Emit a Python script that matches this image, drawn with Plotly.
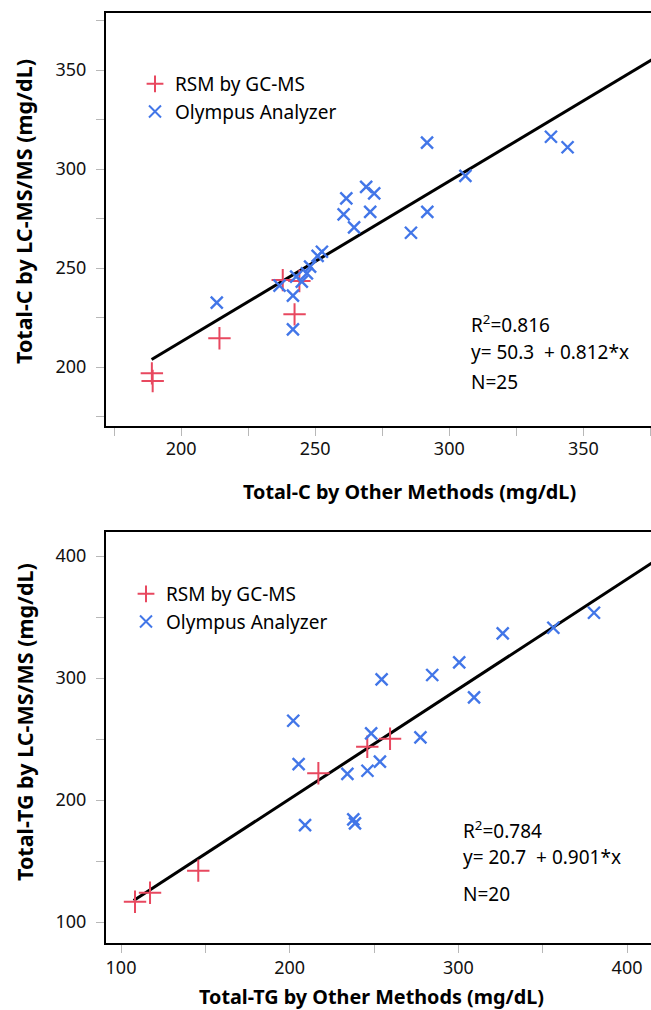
import plotly.graph_objects as go

# ---------------- data ----------------
# Top panel: Total-C
c_rsm_x = [189.1, 189.4, 214.3, 237.9, 244.1, 242.3]
c_rsm_y = [196.8, 192.9, 214.5, 243.9, 243.4, 226.6]
c_oly_x = [213.3, 236.7, 241.7, 241.7, 242.9, 245.0, 246.9, 248.1, 250.9, 252.5,
           260.6, 261.6, 264.5, 269.0, 272.0, 270.5, 285.7, 291.8, 291.7, 306.0,
           337.9, 344.1]
c_oly_y = [232.5, 241.1, 236.0, 219.0, 245.6, 243.1, 247.3, 250.7, 256.1, 258.2,
           277.1, 285.2, 270.5, 291.0, 287.7, 278.4, 267.8, 278.4, 313.3, 296.5,
           316.3, 311.0]
c_fit = dict(a=50.3, b=0.812, x0=189.0, x1=380.0)
c_text = ["R<sup>2</sup>=0.816", "y= 50.3  + 0.812*x", "N=25"]

# Bottom panel: Total-TG
t_rsm_x = [108.3, 117.2, 145.8, 217.0, 246.0, 259.5]
t_rsm_y = [116.6, 124.0, 142.1, 221.9, 243.7, 250.2]
t_oly_x = [202.1, 205.3, 209.1, 234.2, 237.7, 238.7, 246.1, 248.3, 253.5, 254.5,
           277.5, 284.5, 300.5, 309.3, 326.3, 356.3, 380.4]
t_oly_y = [265.0, 229.5, 179.5, 221.5, 184.2, 180.9, 224.0, 254.6, 231.4, 298.9,
           251.4, 302.5, 312.9, 284.2, 336.6, 341.2, 353.5]
t_fit = dict(a=20.7, b=0.901, x0=107.5, x1=420.0)
t_text = ["R<sup>2</sup>=0.784", "y= 20.7  + 0.901*x", "N=20"]

c_ticks = [175, 200, 225, 250, 275, 300, 325, 350, 375]
c_ytks = [175, 200, 225, 250, 275, 300, 325, 350, 375]
t_ticks = [100, 150, 200, 250, 300, 350, 400]

RED = "rgb(232,72,95)"
BLUE = "rgb(66,118,232)"
FONT = "Noto Sans"
W, H = 651, 1010

def lab(vals, step):
    return [str(v) if v % step == 0 else "" for v in vals]

fig = go.Figure()

def add_panel(rx, ry, ox, oy, fit, xa, ya, legend):
    fig.add_trace(go.Scatter(x=[fit["x0"], fit["x1"]],
                             y=[fit["a"] + fit["b"] * fit["x0"], fit["a"] + fit["b"] * fit["x1"]],
                             mode="lines", line=dict(color="black", width=3),
                             showlegend=False, xaxis=xa, yaxis=ya))
    fig.add_trace(go.Scatter(x=rx, y=ry, mode="markers", name="RSM by GC-MS",
                             marker=dict(symbol="cross-thin", size=16,
                                         line=dict(color=RED, width=2)),
                             xaxis=xa, yaxis=ya, legend=legend))
    fig.add_trace(go.Scatter(x=ox, y=oy, mode="markers", name="Olympus Analyzer",
                             marker=dict(symbol="x-thin", size=12,
                                         line=dict(color=BLUE, width=2.4)),
                             xaxis=xa, yaxis=ya, legend=legend))

add_panel(c_rsm_x, c_rsm_y, c_oly_x, c_oly_y, c_fit, "x", "y", "legend")
add_panel(t_rsm_x, t_rsm_y, t_oly_x, t_oly_y, t_fit, "x2", "y2", "legend2")

def py(p):  # pixel y -> paper
    return 1 - p / H

def px(p):
    return p / W

axis_common = dict(showgrid=False, zeroline=False, showline=True, linecolor="black",
                   linewidth=2, ticks="outside", ticklen=8, tickcolor="#b8b8b8",
                   tickwidth=1, tickfont=dict(family=FONT, size=18, color="#111"))

fig.update_layout(
    width=W, height=H, plot_bgcolor="white", paper_bgcolor="white",
    margin=dict(l=0, r=0, t=0, b=0),
    font=dict(family=FONT, color="black"),
    xaxis=dict(domain=[px(106), 1], range=[172.0, 375.2], tickmode="array",
               tickvals=c_ticks, ticktext=lab(c_ticks, 50), mirror=True,
               anchor="y", ticklabelstandoff=-3, **axis_common),
    yaxis=dict(domain=[py(426), py(13)], range=[170.2, 378.8], tickmode="array",
               tickvals=c_ytks, ticktext=lab(c_ytks, 50), anchor="x",
               ticklabelstandoff=6, **axis_common),
    xaxis2=dict(domain=[px(106), 1], range=[91.1, 414.2], tickmode="array",
                tickvals=t_ticks, ticktext=lab(t_ticks, 100), mirror=True,
                anchor="y2", ticklabelstandoff=-1, **axis_common),
    yaxis2=dict(domain=[py(943), py(532)], range=[82.8, 419.7], tickmode="array",
                tickvals=t_ticks, ticktext=lab(t_ticks, 100), anchor="x2",
                ticklabelstandoff=6, **axis_common),
    legend=dict(x=px(135), y=py(65), xanchor="left", yanchor="top",
                bgcolor="rgba(0,0,0,0)", font=dict(family=FONT, size=19),
                itemsizing="constant", tracegroupgap=0),
    legend2=dict(x=px(126), y=py(575), xanchor="left", yanchor="top",
                 bgcolor="rgba(0,0,0,0)", font=dict(family=FONT, size=19),
                 itemsizing="constant", tracegroupgap=0),
)

anns = []
def ann(text, x, y, size=16, bold=False, angle=0, xanchor="center"):
    anns.append(dict(text=("<b>%s</b>" % text) if bold else text, x=px(x), y=py(y),
                     xref="paper", yref="paper", showarrow=False, textangle=angle,
                     xanchor=xanchor, yanchor="middle",
                     font=dict(family=FONT, size=size, color="black")))

ann("Total-C by Other Methods (mg/dL)", 409, 491, 19.8, True)
ann("Total-C by LC-MS/MS (mg/dL)", 24, 212, 21.5, True, -90)
ann("Total-TG by Other Methods (mg/dL)", 371, 996, 19.8, True)
ann("Total-TG by LC-MS/MS (mg/dL)", 24, 722, 21.5, True, -90)

for t, yy in zip(c_text, [324, 352, 382]):
    ann(t, 469, yy, 19, False, 0, "left")
for t, yy in zip(t_text, [830, 857, 894]):
    ann(t, 461, yy, 19, False, 0, "left")

fig.update_layout(annotations=anns)
fig.write_html("out.html", config={"displayModeBar": False},
               post_script="document.body.style.margin='0';document.body.style.overflow='hidden';")
